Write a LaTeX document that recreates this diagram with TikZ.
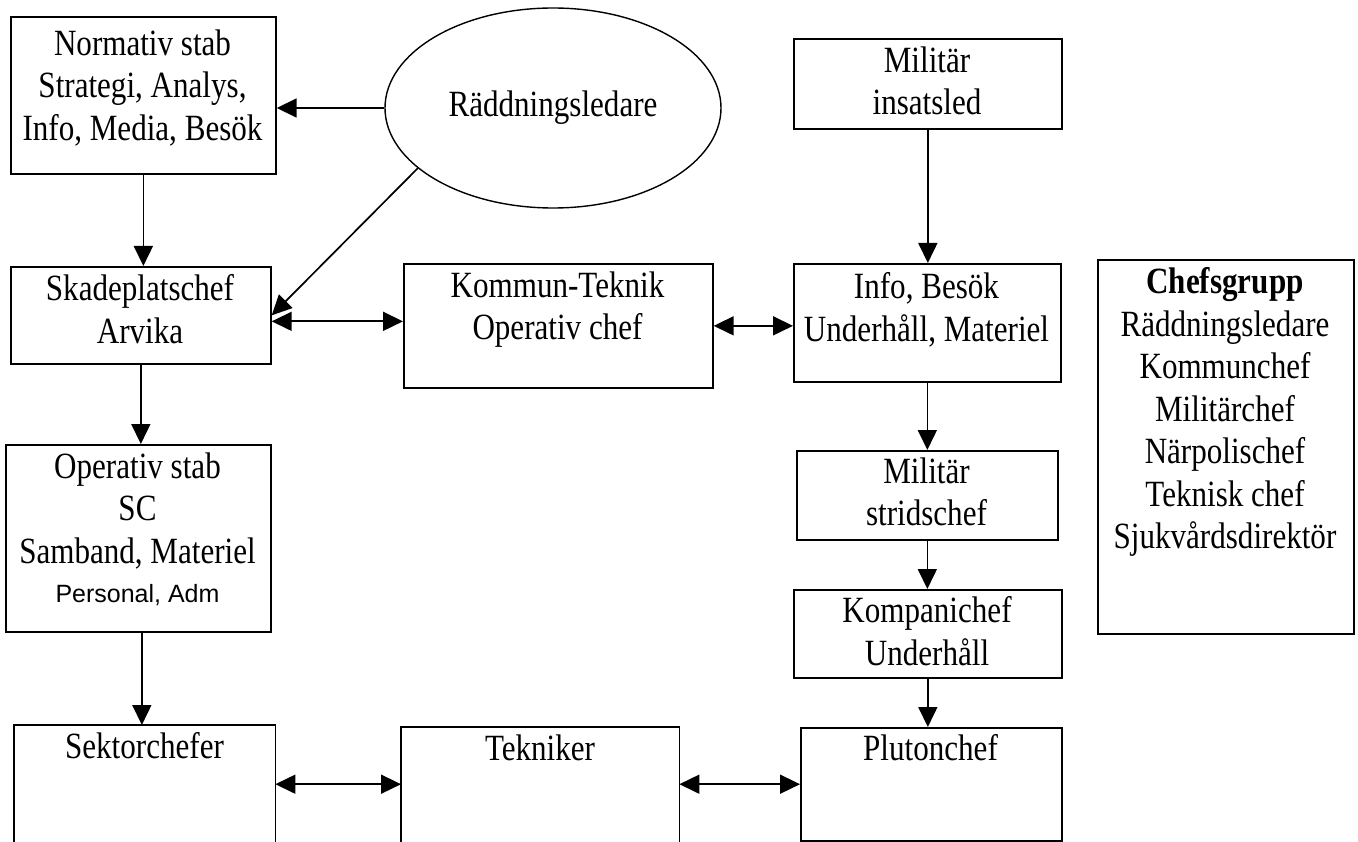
\documentclass[tikz,border=0pt]{standalone}
\usepackage{fontspec}
\setmainfont{Liberation Serif}[FakeStretch=0.84]
\newfontfamily\sansface{Liberation Sans}
\usetikzlibrary{arrows.meta,shapes.geometric}
\begin{document}
\begin{tikzpicture}[x=1pt,y=-1pt,
  box/.style={draw, line width=1.7pt, inner sep=0pt, anchor=north west},
  openbox/.style={inner sep=0pt, anchor=north west},
  txt/.style={inner sep=0pt, align=center, anchor=north, font=\fontsize{37pt}{42.5pt}\selectfont},
  tip/.tip={Triangle[length=20pt,width=19pt]},
  link/.style={line width=1.7pt, -tip},
  twoway/.style={line width=1.7pt, tip-tip}]
\useasboundingbox (0,0) rectangle (1358,842);
\clip (0,0) rectangle (1358,842);

% boxes
\node[box, minimum width=265pt, minimum height=157pt] (ns) at (10,16) {};
\node[draw, ellipse, line width=1.4pt, inner sep=0pt, minimum width=336pt, minimum height=200pt,
      font=\fontsize{37pt}{42.5pt}\selectfont] (el) at (553,108) {Räddningsledare};
\node[box, minimum width=260pt, minimum height=97pt] (sk) at (10,266) {};
\node[box, minimum width=309pt, minimum height=124pt] (kt) at (403,263) {};
\node[box, minimum width=268pt, minimum height=90pt] (mi) at (793,38) {};
\node[box, minimum width=267pt, minimum height=118pt] (ib) at (793,263) {};
\node[box, minimum width=256pt, minimum height=374pt] (cg) at (1097,259) {};
\node[box, minimum width=261pt, minimum height=89pt] (ms) at (796,450) {};
\node[box, minimum width=268pt, minimum height=88pt] (kc) at (793,589) {};
\node[box, minimum width=261pt, minimum height=113pt] (pc) at (800,727) {};
\node[box, minimum width=265pt, minimum height=187pt] (os) at (5,444) {};
\node[openbox, minimum width=261pt, minimum height=130pt] (sc) at (14,725) {};
\node[openbox, minimum width=278pt, minimum height=128pt] (tk) at (401,727) {};
\draw[line width=1.7pt] (sc.south west) -- (sc.north west) -- (sc.north east) -- (sc.south east);
\draw[line width=1.7pt] (tk.south west) -- (tk.north west) -- (tk.north east) -- (tk.south east);

% texts
\node[txt] (nst) at (142.5,29.5) {Normativ stab\\Strategi, Analys,\\Info, Media, Besök};
\node[txt] (skt) at (140,274.5) {Skadeplatschef\\Arvika};
\node[txt] (ktt) at (557.5,271.5) {Kommun-Teknik\\Operativ chef};
\node[txt] (mit) at (927,46.5) {Militär\\insatsled};
\node[txt] (ibt) at (926.5,272.5) {Info, Besök\\Underhåll, Materiel};
\node[txt] (cgt) at (1225,267.5) {\textbf{Chefsgrupp}\\Räddningsledare\\Kommunchef\\Militärchef\\Närpolischef\\Teknisk chef\\Sjukvårdsdirektör};
\node[txt] (mst) at (926.5,457.5) {Militär\\stridschef};
\node[txt] (kct) at (927,596.5) {Kompanichef\\Underhåll};
\node[txt] (pct) at (930.5,734.5) {Plutonchef};
\node[txt] (ost) at (137.5,452.5) {Operativ stab\\SC\\Samband, Materiel};
\node[inner sep=0pt, anchor=base, font=\sansface\fontsize{25pt}{30pt}\selectfont] (osp) at (137.5,602) {Personal, Adm};
\node[txt] (sct) at (144.5,732.5) {Sektorchefer};
\node[txt] (tkt) at (540,734.5) {Tekniker};

% connectors
\draw[link] (el.west) -- (el.west -| ns.east);
\draw[link] (el.204.5) -- (sk.east);
\draw[link] (ns.south |- ns.south) -- (ns.south |- sk.north);
\draw[twoway] ([yshift=-6pt]sk.east) -- ([yshift=-6pt]sk.east -| kt.west);
\draw[twoway] (kt.east) -- (kt.east -| ib.west);
\draw[link] (mi.south) -- (mi.south |- ib.north);
\draw[link] (ib.south) -- (ib.south |- ms.north);
\draw[link] (ms.south) -- (ms.south |- kc.north);
\draw[link] (kc.south) -- (kc.south |- pc.north);
\draw[link] (sk.south) -- (sk.south |- os.north);
\draw[link] ([xshift=3.5pt]os.south) -- ([xshift=3.5pt]os.south |- sc.north);
\draw[twoway] ([yshift=6pt]sc.east) -- ([yshift=6pt]sc.east -| tk.west);
\draw[twoway] ([yshift=7pt]tk.east) -- ([yshift=7pt]tk.east -| pc.west);
\end{tikzpicture}
\end{document}
